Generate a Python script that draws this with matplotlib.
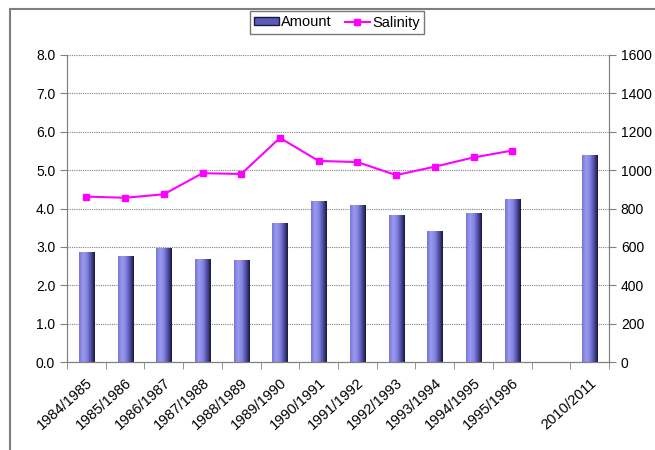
import numpy as np
import matplotlib.pyplot as plt
from matplotlib.patches import Rectangle, Patch
from matplotlib.lines import Line2D
from matplotlib.colors import LinearSegmentedColormap
from matplotlib.transforms import ScaledTranslation

plt.rcParams['font.family'] = ['Liberation Sans', 'DejaVu Sans']

# data (blank slot between 1995/1996 and 2010/2011)
seasons = ['1984/1985', '1985/1986', '1986/1987', '1987/1988', '1988/1989',
           '1989/1990', '1990/1991', '1991/1992', '1992/1993', '1993/1994',
           '1994/1995', '1995/1996', '', '2010/2011']
amount = [572, 554, 596, 539, 529, 722, 840, 819, 767, 685, 779, 849, np.nan, 1078]
salinity = [4.31, 4.28, 4.37, 4.92, 4.90, 5.84, 5.24, 5.21, 4.87, 5.09, 5.33, 5.51,
            np.nan, np.nan]

fig = plt.figure(figsize=(6.55, 4.5), dpi=100)
fig.patch.set_facecolor('white')

# outer chart frame (only top and left show in the crop)
fig.patches.append(Rectangle((10 / 655, -0.1), 1.2, 1.1 - 9 / 450,
                             transform=fig.transFigure, fill=False,
                             edgecolor='#7f7f7f', linewidth=1.5))

ax = fig.add_axes([67 / 655, 1 - 362 / 450, 542 / 655, 307 / 450])
ax2 = ax.twinx()

x = np.arange(len(seasons))
bar_w = 0.39

# bars on the right axis, with a light-to-dark horizontal gradient
bar_cmap = LinearSegmentedColormap.from_list(
    'barshade', ['#7676d6', '#9a9af0', '#8484e2', '#5050a8', '#181838'])
grad = np.linspace(0, 1, 64).reshape(1, -1)
bars = ax2.bar(x, amount, width=bar_w, color='#8080e0', edgecolor='#1a1a40',
               linewidth=0.6, zorder=2)
for b in bars:
    if np.isnan(b.get_height()):
        continue
    x0, w, h = b.get_x(), b.get_width(), b.get_height()
    im = ax2.imshow(grad, cmap=bar_cmap, aspect='auto',
                    extent=(x0, x0 + w, 0, h), zorder=2.5)
    im.set_clip_path(b)

# salinity line on the left axis
ax.plot(x, salinity, color='#ff00ff', linewidth=1.5, marker='s',
        markersize=5, zorder=3)

ax.set_xlim(-0.5, len(seasons) - 0.5)
ax.set_ylim(0, 8)
ax2.set_ylim(0, 1600)
ax.set_yticks(np.arange(0, 8.1, 1))
ax.set_yticklabels([f'{v:.1f}' for v in np.arange(0, 8.1, 1)])
ax2.set_yticks(np.arange(0, 1601, 200))

# grid lines from the bar axis so they sit behind the bars
ax2.set_axisbelow(True)
ax2.yaxis.grid(True, linestyle=(0, (1, 1)), color='#808080', linewidth=0.8)

ax.set_zorder(ax2.get_zorder() + 1)
ax.patch.set_visible(False)

# category labels at centres, tick marks at boundaries
ax.set_xticks(x)
ax.set_xticklabels(seasons, rotation=42, ha='right', rotation_mode='anchor')
shift = ScaledTranslation(4 / 100, 0, fig.dpi_scale_trans)
for lbl in ax.get_xticklabels():
    lbl.set_transform(lbl.get_transform() + shift)
ax.set_xticks(np.arange(-0.5, len(seasons)), minor=True)
ax.tick_params(axis='x', which='major', length=0, pad=10, labelsize=10.5)
ax.tick_params(axis='x', which='minor', length=5, color='#808080')
ax.tick_params(axis='y', length=5, color='#808080', labelsize=10)
ax2.tick_params(axis='y', length=5, color='#808080', labelsize=10)

for a in (ax, ax2):
    a.spines['top'].set_visible(False)
    for s in ('left', 'right', 'bottom'):
        a.spines[s].set_color('#808080')

handles = [Patch(facecolor='#5a5ab8', edgecolor='#1a1a40', label='Amount'),
           Line2D([0], [0], color='#ff00ff', marker='s', markersize=5,
                  linewidth=1.5, label='Salinity')]
fig.legend(handles=handles, loc='center', bbox_to_anchor=(337 / 655, 1 - 22.5 / 450),
           ncol=2, frameon=True, fancybox=False, edgecolor='#555555',
           fontsize=10.5, handlelength=1.7, handleheight=0.5, handletextpad=0.15,
           columnspacing=0.9, borderpad=0.3, borderaxespad=0)

fig.savefig('out.png', dpi=100)
